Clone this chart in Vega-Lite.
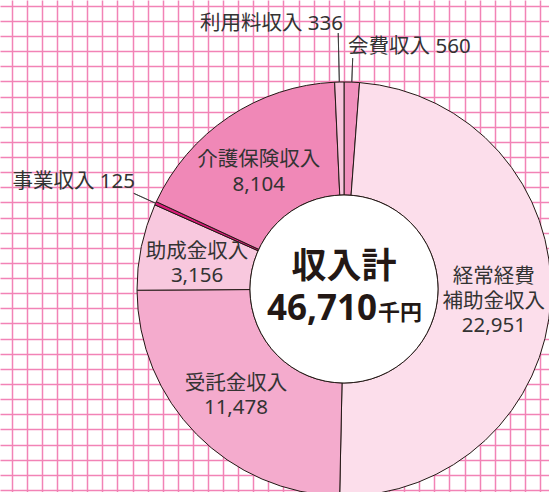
{
  "$schema": "https://vega.github.io/schema/vega-lite/v6.json",
  "width": 549,
  "height": 492,
  "autosize": {"type": "none"},
  "padding": 0,
  "background": "white",
  "config": {
    "view": {"stroke": null},
    "axis": {"labels": false, "ticks": false, "domain": false, "title": null, "grid": true, "gridColor": "#f283b6", "gridWidth": 1.5, "gridOpacity": 1},
    "text": {"font": "Noto Sans, Noto Sans CJK JP", "color": "#333333"}
  },
  "data": {
    "values": [
      {"name": "会費収入", "value": 560, "order": 1, "label": "会費収入 560"},
      {"name": "経常経費補助金収入", "value": 22951, "order": 2, "label": "経常経費\n補助金収入\n22,951"},
      {"name": "受託金収入", "value": 11478, "order": 3, "label": "受託金収入\n11,478"},
      {"name": "助成金収入", "value": 3156, "order": 4, "label": "助成金収入\n3,156"},
      {"name": "事業収入", "value": 125, "order": 5, "label": "事業収入 125"},
      {"name": "介護保険収入", "value": 8104, "order": 6, "label": "介護保険収入\n8,104"},
      {"name": "利用料収入", "value": 336, "order": 7, "label": "利用料収入 336"}
    ]
  },
  "encoding": {
    "x": {"datum": 344, "type": "quantitative", "scale": {"domain": [0, 549], "nice": false, "zero": false},
      "axis": {"values": [11.7, 26.8, 41.9, 57, 72.1, 87.2, 102.3, 117.4, 132.5, 147.5, 162.6, 177.7, 192.8, 207.9, 223, 238.1, 253.2, 268.3, 283.4, 298.5, 313.6, 328.7, 343.8, 358.9, 374, 389, 404.1, 419.2, 434.3, 449.4, 464.5, 479.6, 494.7, 509.8, 524.9, 540]}},
    "y": {"datum": 289, "type": "quantitative", "scale": {"domain": [0, 492], "nice": false, "zero": false, "reverse": true},
      "axis": {"values": [5.7, 20.8, 36, 51.1, 66.2, 81.4, 96.5, 111.6, 126.7, 141.9, 157, 172.1, 187.3, 202.4, 217.5, 232.7, 247.8, 262.9, 278, 293.2, 308.3, 323.4, 338.6, 353.7, 368.8, 383.9, 399.1, 414.2, 429.3, 444.5, 459.6, 474.7, 489.9]}}
  },
  "layer": [
    {
      "mark": {"type": "arc", "outerRadius": 207, "innerRadius": 94, "stroke": "#231815", "strokeWidth": 1},
      "encoding": {
        "theta": {"field": "value", "type": "quantitative", "stack": true},
        "order": {"field": "order", "type": "quantitative"},
        "color": {"field": "name", "type": "nominal", "legend": null,
          "scale": {"domain": ["会費収入", "経常経費補助金収入", "受託金収入", "助成金収入", "事業収入", "介護保険収入", "利用料収入"],
                    "range": ["#f190bd", "#fcdeeb", "#f4abcd", "#f8c8de", "#d81b78", "#f088b7", "#f8c4dc"]}}
      }
    },
    {
      "transform": [{"aggregate": [{"op": "sum", "field": "value", "as": "total"}]}],
      "mark": {"type": "arc", "outerRadius": 94, "innerRadius": 0, "theta": 0, "theta2": 6.2832, "fill": "white", "stroke": "#231815", "strokeWidth": 1}
    },
    {
      "mark": {"type": "arc", "outerRadius": 231, "innerRadius": 207, "padAngle": 3, "filled": false, "stroke": "#333333", "strokeWidth": 0.8},
      "encoding": {
        "theta": {"field": "value", "type": "quantitative", "stack": true},
        "order": {"field": "order", "type": "quantitative"},
        "strokeOpacity": {"condition": {"test": "datum.name === '会費収入' || datum.name === '事業収入'", "value": 1}, "value": 0}
      }
    },
    {
      "mark": {"type": "arc", "outerRadius": 256, "innerRadius": 207, "padAngle": 3, "filled": false, "stroke": "#333333", "strokeWidth": 0.8},
      "encoding": {
        "theta": {"field": "value", "type": "quantitative", "stack": true},
        "order": {"field": "order", "type": "quantitative"},
        "strokeOpacity": {"condition": {"test": "datum.name === '利用料収入'", "value": 1}, "value": 0}
      }
    },
    {
      "mark": {"type": "text", "radius": 146, "fontSize": 20.5, "lineBreak": "\n", "lineHeight": 24.5, "dx": -4, "dy": -7.5, "baseline": "middle", "align": "center"},
      "encoding": {
        "theta": {"field": "value", "type": "quantitative", "stack": true},
        "order": {"field": "order", "type": "quantitative"},
        "text": {"condition": {"test": "datum.value >= 1000 && datum.value < 20000", "field": "label"}, "value": ""}
      }
    },
    {
      "mark": {"type": "text", "radius": 150, "fontSize": 20.5, "lineBreak": "\n", "lineHeight": 24.5, "dy": -19, "baseline": "middle", "align": "center"},
      "encoding": {
        "theta": {"field": "value", "type": "quantitative", "stack": true},
        "order": {"field": "order", "type": "quantitative"},
        "text": {"condition": {"test": "datum.value >= 20000", "field": "label"}, "value": ""}
      }
    },
    {
      "mark": {"type": "text", "radius": 266, "fontSize": 20.5, "align": "right", "baseline": "middle", "dx": 5, "dy": 1},
      "encoding": {
        "theta": {"field": "value", "type": "quantitative", "stack": true},
        "order": {"field": "order", "type": "quantitative"},
        "text": {"condition": {"test": "datum.name === '利用料収入'", "field": "label"}, "value": ""}
      }
    },
    {
      "mark": {"type": "text", "radius": 242, "fontSize": 20.5, "align": "left", "baseline": "middle", "dx": -5},
      "encoding": {
        "theta": {"field": "value", "type": "quantitative", "stack": true},
        "order": {"field": "order", "type": "quantitative"},
        "text": {"condition": {"test": "datum.name === '会費収入'", "field": "label"}, "value": ""}
      }
    },
    {
      "mark": {"type": "text", "radius": 233, "fontSize": 20.5, "align": "right", "baseline": "middle", "dx": 3, "dy": -10.5},
      "encoding": {
        "theta": {"field": "value", "type": "quantitative", "stack": true},
        "order": {"field": "order", "type": "quantitative"},
        "text": {"condition": {"test": "datum.name === '事業収入'", "field": "label"}, "value": ""}
      }
    },
    {
      "transform": [{"aggregate": [{"op": "sum", "field": "value", "as": "total"}]}],
      "mark": {"type": "text", "font": "Noto Sans CJK JP", "fontSize": 35, "fontWeight": "bold", "align": "center", "baseline": "middle", "dy": -22, "color": "#231815"},
      "encoding": {"text": {"value": "収入計"}}
    },
    {
      "transform": [{"aggregate": [{"op": "sum", "field": "value", "as": "total"}]}],
      "mark": {"type": "text", "font": "Noto Sans", "fontSize": 35, "fontWeight": "bold", "align": "right", "baseline": "alphabetic", "dx": 33, "dy": 31, "color": "#231815"},
      "encoding": {"text": {"field": "total", "type": "quantitative", "format": ","}}
    },
    {
      "transform": [{"aggregate": [{"op": "sum", "field": "value", "as": "total"}]}],
      "mark": {"type": "text", "font": "Noto Sans CJK JP", "fontSize": 22, "fontWeight": "bold", "align": "left", "baseline": "alphabetic", "dx": 34, "dy": 31, "color": "#231815"},
      "encoding": {"text": {"value": "千円"}}
    }
  ]
}
